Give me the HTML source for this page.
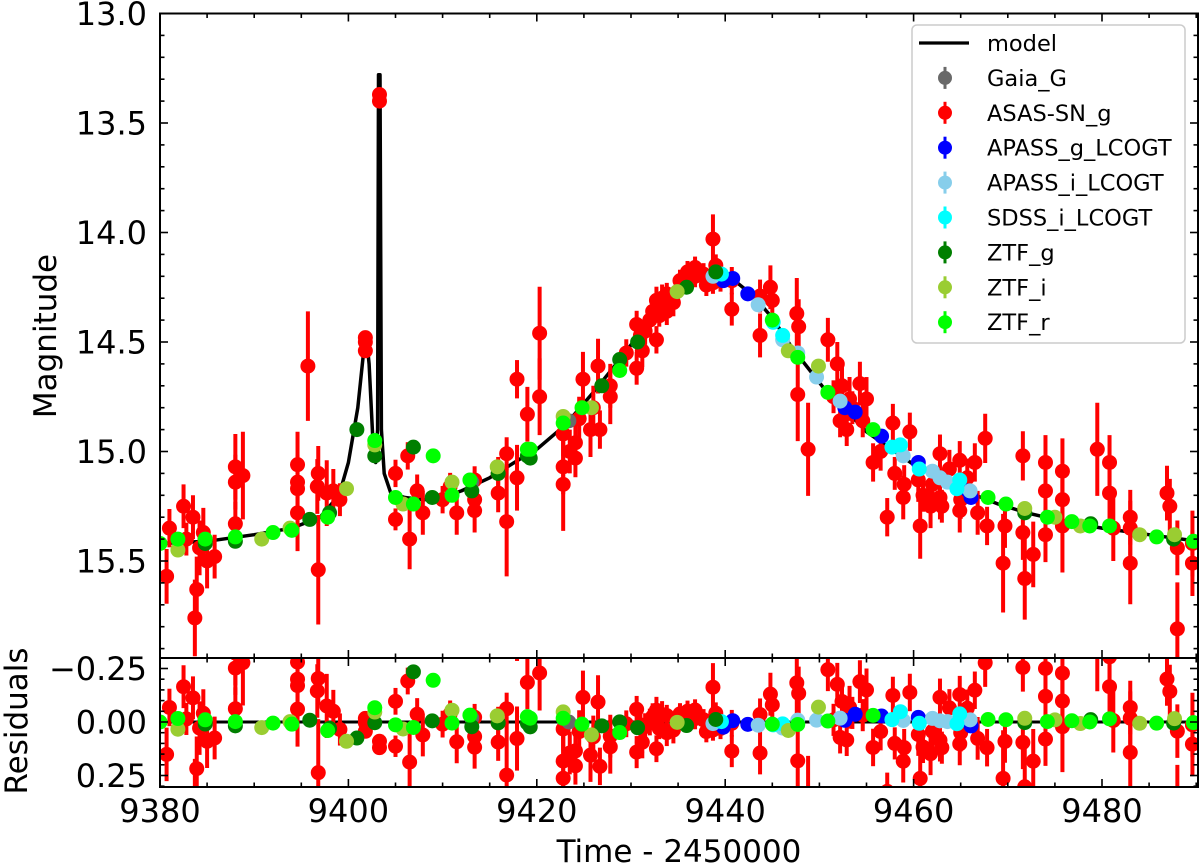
<!DOCTYPE html>
<html><head><meta charset="utf-8"><style>
html,body{margin:0;padding:0;background:#fff;}
svg{display:block;font-family:"DejaVu Sans","Liberation Sans",sans-serif;}
</style></head><body>
<svg id="chart" width="1200" height="867" viewBox="0 0 1200 867" xmlns="http://www.w3.org/2000/svg">
<defs>
<clipPath id="clipMain"><rect x="160" y="13.5" width="1038" height="644.5"/></clipPath>
<clipPath id="clipRes"><rect x="160" y="658" width="1038" height="129"/></clipPath>
</defs>
<g id="mainPlot"></g>
<g id="resPlot"></g>
<g id="axes"></g>
<text x="0" y="0" font-size="31" text-anchor="middle" transform="translate(56,336) rotate(-90)">Magnitude</text>
<text x="0" y="0" font-size="31" text-anchor="middle" transform="translate(27,721) rotate(-90)">Residuals</text>
<text x="679" y="862" font-size="31" text-anchor="middle">Time - 2450000</text>
<g id="legend"></g>
</svg>
<script>
// ---- data ----
const modelT=[9380,9385,9390,9394,9397,9399,9400,9401,9401.6,9401.9,9402.2,9402.6,9402.9,9403.1,9403.2,9403.35,9403.5,9403.8,9404.5,9406,9408,9410,9412,9415,9418,9420,9423,9426,9429,9432,9434,9436,9438,9439.5,9441,9443,9445,9447,9449,9451,9453,9455,9457,9460,9463,9466,9469,9472,9476,9480,9485,9490.2];
const modelM=[15.42,15.41,15.38,15.35,15.30,15.20,15.05,14.80,14.55,14.47,14.6,14.95,15.05,14.9,13.28,13.28,14.9,15.1,15.19,15.21,15.22,15.21,15.18,15.12,15.04,14.99,14.88,14.73,14.57,14.40,14.30,14.23,14.195,14.19,14.22,14.29,14.39,14.52,14.63,14.74,14.82,14.91,14.97,15.06,15.13,15.19,15.24,15.28,15.32,15.35,15.38,15.41];
const asasT=[9380.7,9382.5,9383.9,9383.7,9383.5,9384.6,9385,9385.8,9384.2,9381,9382.8,9388,9388,9388.8,9388,9395.7,9394.6,9394.6,9394.6,9394.6,9396.8,9396.7,9396.8,9397.7,9398.4,9399.1,9401.8,9401.8,9401.8,9403.3,9403.3,9405,9405,9406.3,9406.5,9407.9,9407.3,9410,9410.8,9411.5,9413.4,9413.4,9413.4,9415.9,9415.9,9416.8,9416.8,9417.9,9417.9,9419,9420.3,9420.3,9422.8,9422.8,9422.8,9424.1,9424.1,9424.9,9425.7,9426.5,9426.7,9427.8,9427.8,9430.6,9431.2,9430.6,9432,9432.7,9432.7,9433.8,9434.5,9433.8,9431.5,9433,9436.8,9436.8,9437.7,9438.7,9438.7,9439,9440.7,9440.7,9443.7,9443.7,9444.8,9445,9447.6,9447.8,9447.7,9448.8,9450.9,9451.9,9452.4,9453.2,9454.3,9454.6,9452.2,9452.9,9453.5,9451.5,9455,9455.7,9457.8,9459.6,9458.9,9460.5,9460.7,9462.8,9462.8,9464.9,9464.9,9466.5,9467.6,9467.8,9469.5,9469.7,9471.6,9471.6,9471.8,9472.7,9474,9474,9474,9475.8,9475.8,9475.8,9479.5,9480.8,9480.8,9481.2,9483,9483,9483,9486.9,9487.2,9488,9488,9489.6,9489.6,9463,9461,9458,9429.5,9431,9432.3,9433.3,9435.2,9436,9438,9439.5,9456.5,9459,9461.8,9463.8,9465.7,9466.8,9457.2,9462,9465,9424.5,9426,9423.5];
const asasM=[15.57,15.25,15.63,15.76,15.30,15.37,15.50,15.48,15.44,15.35,15.40,15.07,15.14,15.11,15.33,14.61,15.06,15.14,15.17,15.28,15.10,15.16,15.54,15.19,15.18,15.22,14.48,14.50,14.54,13.37,13.40,15.10,15.31,15.02,15.40,15.28,15.18,15.22,15.16,15.28,15.13,15.22,15.27,15.10,15.19,15.01,15.32,15.12,14.67,14.83,14.46,14.75,14.92,15.07,15.15,14.96,15.03,14.67,14.90,14.61,14.90,14.75,14.70,14.62,14.54,14.42,14.40,14.49,14.31,14.36,14.32,14.28,14.45,14.38,14.16,14.20,14.19,14.03,14.23,14.15,14.35,14.22,14.29,14.47,14.25,14.31,14.37,14.43,14.74,14.99,14.49,14.60,14.70,14.76,14.69,14.86,14.86,14.90,14.80,14.75,14.76,15.05,14.87,14.91,15.21,15.13,15.34,15.01,15.21,15.04,15.27,15.05,14.94,15.34,15.51,15.34,15.02,15.37,15.58,15.47,15.05,15.18,15.38,15.09,15.22,15.34,14.99,15.05,15.19,15.35,15.30,15.35,15.51,15.19,15.25,15.81,15.44,15.51,15.42,15.25,15.20,15.10,14.55,14.47,14.36,14.30,14.22,14.18,14.24,14.22,15.00,15.15,15.25,15.08,15.12,15.28,15.30,15.15,15.22,14.85,14.80,15.0];
const asasE=[.1,.08,.12,.14,.08,.09,.1,.08,.1,.07,.06,.12,.1,.16,.08,.2,.12,.1,.1,.14,.1,.1,.2,.12,.08,.06,.02,.02,.02,.02,.02,.05,.04,.05,.11,.08,.06,.05,.05,.08,.05,.05,.08,.06,.07,.06,.2,.12,.07,.1,.17,.14,.08,.1,.17,.07,.07,.1,.1,.1,.07,.1,.08,.06,.06,.05,.05,.05,.05,.05,.05,.04,.05,.04,.04,.04,.04,.09,.04,.04,.06,.05,.06,.08,.08,.06,.13,.1,.17,.17,.08,.08,.07,.08,.08,.06,.06,.06,.06,.06,.08,.07,.07,.07,.08,.08,.12,.07,.08,.07,.08,.07,.09,.07,.18,.08,.09,.1,.15,.12,.1,.1,.1,.12,.12,.17,.17,.1,.12,.12,.1,.1,.15,.1,.1,.17,.1,.12,.12,.06,.06,.06,.05,.05,.05,.05,.04,.04,.04,.04,.07,.07,.08,.07,.07,.08,.07,.07,.07,.08,.08,.08];
const gaiaT=[9413.1,9423.4];
const gaiaM=[15.14,14.86];
const apgT=[9439.8,9440.8,9442.4,9452.7,9453.8,9456.6,9460.5,9465.8,9466.1];
const apgM=[14.22,14.21,14.28,14.80,14.82,14.93,15.05,15.18,15.21];
const apiT=[9438.7,9443.5,9446.1,9447.7,9449.7,9452.2,9458.9,9462,9462.8,9463.6,9466];
const apiM=[14.20,14.33,14.49,14.55,14.66,14.77,15.02,15.09,15.12,15.14,15.18];
const sdssT=[9439.6,9445.1,9446.1,9457.7,9458.6,9460.6,9464.9,9464.6];
const sdssM=[14.19,14.41,14.47,14.98,14.97,15.08,15.13,15.17];
const ztfgT=[9384.8,9388,9395.9,9398,9400.9,9402.8,9406.9,9408.9,9413.1,9415.9,9419,9419.3,9426.9,9428.8,9430.7,9435.9,9439,9471.8,9478.8,9487.6];
const ztfgM=[15.42,15.41,15.31,15.28,14.90,15.02,14.98,15.21,15.18,15.10,15.02,15.03,14.70,14.58,14.50,14.25,14.18,15.28,15.33,15.40];
const ztfiT=[9381.9,9390.8,9393.8,9399.8,9402.8,9405.8,9411,9415.8,9422.8,9425.8,9434.9,9446.7,9449.9,9471.8,9475,9477.7,9484,9487.7];
const ztfiM=[15.45,15.40,15.35,15.17,14.97,15.24,15.14,15.07,14.84,14.80,14.27,14.54,14.61,15.26,15.30,15.34,15.38,15.38];
const ztfrT=[9380,9381.9,9384.8,9388,9392,9394,9397.8,9402.8,9405,9406.9,9409,9411,9412.9,9419,9419.3,9422.8,9424.8,9428.8,9445,9447.7,9450.9,9455.7,9467.9,9469.8,9474.2,9476.8,9478.7,9480.8,9485.8,9489.7];
const ztfrM=[15.42,15.40,15.40,15.39,15.37,15.36,15.30,14.95,15.21,15.24,15.02,15.20,15.13,14.99,14.99,14.87,14.80,14.63,14.40,14.57,14.73,14.90,15.21,15.24,15.30,15.32,15.34,15.34,15.39,15.41];
const xTicks=[9380,9400,9420,9440,9460,9480];
const yTicks=[13.0,13.5,14.0,14.5,15.0,15.5];
const rTicks=[-0.25,0.00,0.25];
const legendLabels=["model","Gaia_G","ASAS-SN_g","APASS_g_LCOGT","APASS_i_LCOGT","SDSS_i_LCOGT","ZTF_g","ZTF_i","ZTF_r"];

// ---- scales ----
const L=160,R=1198,T=13.5,MB=658,RT=658,RB=787;
const X=t=>L+(t-9380)*9.42;
const Y=m=>T+(m-13)*219;
const YR=r=>722+r*214;
const NS='http://www.w3.org/2000/svg';
function mk(tag,attrs,parent){const e=document.createElementNS(NS,tag);for(const k in attrs)e.setAttribute(k,attrs[k]);parent.appendChild(e);return e;}
function model(t){for(let i=0;i<modelT.length-1;i++){if(t>=modelT[i]&&t<=modelT[i+1]){const f=(t-modelT[i])/(modelT[i+1]-modelT[i]);return modelM[i]+f*(modelM[i+1]-modelM[i]);}}return modelM[modelM.length-1];}

const main=document.getElementById('mainPlot');
const res=document.getElementById('resPlot');
const gm=mk('g',{'clip-path':'url(#clipMain)'},main);
const gr=mk('g',{'clip-path':'url(#clipRes)'},res);

let d='';modelT.forEach((t,i)=>{d+=(i?'L':'M')+X(t).toFixed(1)+','+Y(modelM[i]).toFixed(1);});
const ml=mk('path',{d:d,fill:'none',stroke:'#000','stroke-width':3.5,'stroke-linejoin':'round'},gm);


const rl=mk('line',{x1:L,x2:R,y1:YR(0),y2:YR(0),stroke:'#000','stroke-width':3},gr);



function series(name,color,ts,ms,es,pts,rad){
  const g1=mk('g',{},gm);
  
  
  const g2=mk('g',{},gr);
  
  
  ts.forEach((t,i)=>{
    const m=ms[i],e=es?es[i]*1.25:0.015;
    const x=X(t),y=Y(m);
    mk('line',{x1:x,x2:x,y1:Y(m-e),y2:Y(m+e),stroke:color,'stroke-width':4},g1);
    const c=mk('circle',{cx:x,cy:y,r:rad,fill:color},g1);
    
    
    const r=m-model(t);
    const yr=YR(r);
    mk('line',{x1:x,x2:x,y1:YR(r-e),y2:YR(r+e),stroke:color,'stroke-width':4},g2);
    const c2=mk('circle',{cx:x,cy:yr,r:rad,fill:color},g2);
    
    
  });
}
series('asas-sn-g','#ff0000',asasT,asasM,asasE,0,7.5);
series('gaia-g','#696969',gaiaT,gaiaM,null,0,7.5);
series('apass-g','#0000ff',apgT,apgM,null,0,7.5);
series('apass-i','#87ceeb',apiT,apiM,null,0,7.5);
series('sdss-i','#00ffff',sdssT,sdssM,null,0,7.5);
series('ztf-g','#007f00',ztfgT,ztfgM,null,0,7.5);
series('ztf-i','#9acd32',ztfiT,ztfiM,null,0,7.5);
series('ztf-r','#00ff00',ztfrT,ztfrM,null,0,7.5);

// ---- axes ----
const ax=document.getElementById('axes');
function frame(top,bot,nm){const r=mk('rect',{x:L,y:top,width:R-L,height:bot-top,fill:'none',stroke:'#000','stroke-width':2},ax);}
frame(T,MB,'main-panel-frame');frame(RT,RB,'residual-panel-frame');
function tick(x1,y1,x2,y2){mk('line',{x1:x1,y1:y1,x2:x2,y2:y2,stroke:'#000','stroke-width':1.6},ax);}
for(let t=9380;t<=9490;t+=5){const maj=(t%20===0),len=maj?8:4.5,x=X(t);
  tick(x,T,x,T+len);tick(x,MB,x,MB-len);tick(x,RT,x,RT+len);tick(x,RB,x,RB-len);}
for(let k=0;k<=29;k++){const m=13+k*0.1,y=Y(m);if(y>MB-1)break;const maj=(k%5===0),len=maj?8:4.5;tick(L,y,L+len,y);tick(R,y,R-len,y);}
for(let k=-6;k<=6;k++){const r=k*0.05,y=YR(r);if(y<RT+0.5||y>RB-0.5)continue;const maj=(k%5===0),len=maj?8:4.5;tick(L,y,L+len,y);tick(R,y,R-len,y);}
xTicks.forEach(t=>{const tx=mk('text',{x:X(t),y:822,'font-size':32,'text-anchor':'middle'},ax);tx.textContent=String(t);});
yTicks.forEach(m=>{const tx=mk('text',{x:147,y:Y(m)+11.5,'font-size':32,'text-anchor':'end'},ax);tx.textContent=m.toFixed(1);});
rTicks.forEach(r=>{const tx=mk('text',{x:147,y:YR(r)+11.5,'font-size':32,'text-anchor':'end'},ax);tx.textContent=(r<0?'\u2212':'')+Math.abs(r).toFixed(2);});

// ---- legend ----
const lg=document.getElementById('legend');
const lb=mk('rect',{x:912,y:25,width:273,height:318,rx:5,fill:'#fff','fill-opacity':0.85,stroke:'#cccccc','stroke-width':1.5},lg);


const lcol=[null,'#696969','#ff0000','#0000ff','#87ceeb','#00ffff','#007f00','#9acd32','#00ff00'];
legendLabels.forEach((lab,i)=>{
  const y=43+i*34.9;
  const g=mk('g',{},lg);
  
  
  if(i===0){mk('line',{x1:919,x2:969,y1:y,y2:y,stroke:'#000','stroke-width':3.2},g);}
  else{mk('line',{x1:945,x2:945,y1:y-11,y2:y+11,stroke:lcol[i],'stroke-width':3},g);mk('circle',{cx:945,cy:y,r:7,fill:lcol[i]},g);}
  const tx=mk('text',{x:987,y:y+8,'font-size':22.5},g);tx.textContent=lab;
});
</script>
</body></html>
